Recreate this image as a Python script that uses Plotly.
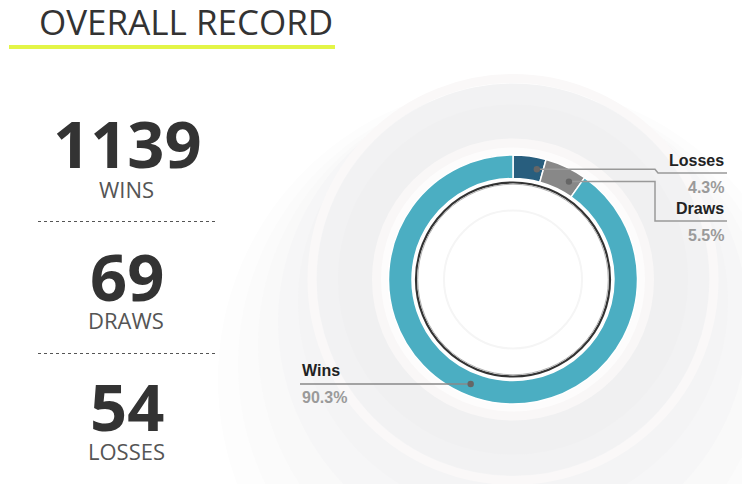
import math
import plotly.graph_objects as go

# ---------------- data ----------------
categories = ["Losses", "Draws", "Wins"]
counts = [54, 69, 1139]
stat_labels = ["WINS", "DRAWS", "LOSSES"]
stat_values = [1139, 69, 54]
slice_colors = ["#285e7e", "#888888", "#4baec2"]
title_text = "OVERALL RECORD"

W, H = 742, 492
CX, CY, R = 513, 279.5, 124.5        # donut centre / radius in pixels
HOLE = 0.811
LABEL_SHIFT = 4.5                      # degrees, connector point offset

total = sum(counts)
fracs = [c / total for c in counts]

fig = go.Figure()

# invisible pixel axes for decorations
fig.update_xaxes(range=[0, W], visible=False, fixedrange=True)
fig.update_yaxes(range=[H, 0], visible=False, fixedrange=True)

shapes = []


def circle(r, fill=None, line_color=None, lw=0, layer="below", cx=CX, cy=CY):
    d = dict(type="circle", xref="x", yref="y", x0=cx - r, x1=cx + r,
             y0=cy - r, y1=cy + r, layer=layer)
    d["fillcolor"] = fill if fill else "rgba(0,0,0,0)"
    d["line"] = dict(color=line_color if line_color else "rgba(0,0,0,0)", width=lw)
    return d


# soft background shading (decoration)
bg_layers = [
    (295, "#fdfdfd", CY + 100), (275, "#fbfbfb", CY + 85), (255, "#f9f9f9", CY + 65),
    (235, "#f6f6f7", CY + 42), (215, "#f4f4f5", CY + 22),
]
for r, col, cy in bg_layers:
    shapes.append(circle(r, fill=col, cy=cy))
shapes.append(circle(196, fill="#f2f2f3"))
shapes.append(circle(201, line_color="#faf8f8", lw=9))
shapes.append(circle(175, fill="#f0f0f1"))
shapes.append(circle(141, fill="#f9f7f7"))
shapes.append(circle(132, fill="#fdfcfc"))
shapes.append(circle(R * HOLE, fill="#ffffff"))
shapes.append(circle(69, fill="#ffffff", line_color="#f5f5f5", lw=2))
# cut the background at the bottom
shapes.append(dict(type="rect", xref="x", yref="y", x0=0, x1=W, y0=484, y1=H,
                   fillcolor="#ffffff", line=dict(width=0), layer="below"))
# inner black ring
shapes.append(circle(97, line_color="#333333", lw=2.2, layer="above"))
shapes.append(circle(95.3, line_color="#b0b0b0", lw=1, layer="above"))

# pie (donut)
fig.add_trace(go.Pie(
    labels=categories, values=counts, sort=False, direction="clockwise",
    rotation=0, hole=HOLE, textinfo="none", hoverinfo="skip",
    marker=dict(colors=slice_colors, line=dict(color="#ffffff", width=1.5)),
    domain=dict(x=[(CX - R) / W, (CX + R) / W],
                y=[1 - (CY + R) / H, 1 - (CY - R) / H]),
    showlegend=False,
))

# connector points from data angles
r_mid = R * (1 + HOLE) / 2
cum = 0
points = []
for f in fracs:
    th = math.radians(360 * (cum + f / 2) + LABEL_SHIFT)
    points.append((CX + r_mid * math.sin(th), CY - r_mid * math.cos(th)))
    cum += f

LINE = "#999999"
annotations = []
pct = [f"{f * 100:.1f}%" for f in fracs]
LBL_FONT = "Liberation Sans, Arial"

# Losses (index 0) and Draws (index 1): to the right
right_x = 727
elbow_x = 655
label_line_y = [173, 221]
for i in range(2):
    px, py = points[i]
    path = (f"M{px},{py} L{elbow_x},{py} L{elbow_x + (3 if i == 0 else 0)},"
            f"{label_line_y[i]} L{right_x},{label_line_y[i]}")
    shapes.append(dict(type="path", xref="x", yref="y", path=path,
                       line=dict(color=LINE, width=1.5), layer="above"))
    annotations.append(dict(x=right_x - 1, y=label_line_y[i] - 13, xref="x", yref="y",
                            text=f"<b>{categories[i]}</b>", showarrow=False,
                            xanchor="right", yanchor="middle",
                            font=dict(family=LBL_FONT, size=16, color="#222222")))
    annotations.append(dict(x=right_x - 1, y=label_line_y[i] + 14, xref="x", yref="y",
                            text=f"<b>{pct[i]}</b>", showarrow=False,
                            xanchor="right", yanchor="middle",
                            font=dict(family=LBL_FONT, size=16, color="#9a9a9a")))
# Wins (index 2): to the left
px, py = points[2]
left_x = 300
shapes.append(dict(type="path", xref="x", yref="y", path=f"M{px},{py} L{left_x},{py}",
                   line=dict(color="#888888", width=1.5), layer="above"))
annotations.append(dict(x=left_x, y=py - 13, xref="x", yref="y",
                        text=f"<b>{categories[2]}</b>", showarrow=False,
                        xanchor="left", yanchor="middle",
                        font=dict(family=LBL_FONT, size=16, color="#222222")))
annotations.append(dict(x=left_x, y=py + 14, xref="x", yref="y",
                        text=f"<b>{pct[2]}</b>", showarrow=False,
                        xanchor="left", yanchor="middle",
                        font=dict(family=LBL_FONT, size=16, color="#9a9a9a")))
# dots
for (px, py) in points:
    shapes.append(circle(3.2, fill="#666666", layer="above", cx=px, cy=py))

# ---------------- left panel ----------------
annotations.append(dict(x=186, y=21, xref="x", yref="y", text=title_text, showarrow=False,
                        xanchor="center", yanchor="middle", height=36, valign="middle",
                        font=dict(family="Open Sans", size=35, color="#333333")))
shapes.append(dict(type="rect", xref="x", yref="y", x0=9, x1=335, y0=45, y1=49,
                   fillcolor="#e3f547", line=dict(width=0), layer="above"))

num_y = [143, 276, 406]
lab_y = [189, 320, 451]
for v, lab, ny, ly in zip(stat_values, stat_labels, num_y, lab_y):
    annotations.append(dict(x=127, y=ny, xref="x", yref="y", text=f"<b>{v}</b>",
                            showarrow=False, xanchor="center", yanchor="middle",
                            height=56, valign="middle",
                            font=dict(family="Open Sans", size=65, color="#333333")))
    annotations.append(dict(x=126, y=ly, xref="x", yref="y", text=lab,
                            showarrow=False, xanchor="center", yanchor="middle",
                            height=22, valign="middle",
                            font=dict(family="Open Sans", size=22, color="#555555")))
for y in [221.5, 353.5]:
    shapes.append(dict(type="line", xref="x", yref="y", x0=38, x1=215, y0=y, y1=y,
                       line=dict(color="#555555", width=1, dash="3px,3px"), layer="above"))

fig.update_layout(
    width=W, height=H, margin=dict(l=0, r=0, t=0, b=0),
    paper_bgcolor="#ffffff", plot_bgcolor="rgba(0,0,0,0)",
    shapes=shapes, annotations=annotations, showlegend=False,
)

fig.write_html("out.html", config={"displayModeBar": False})
